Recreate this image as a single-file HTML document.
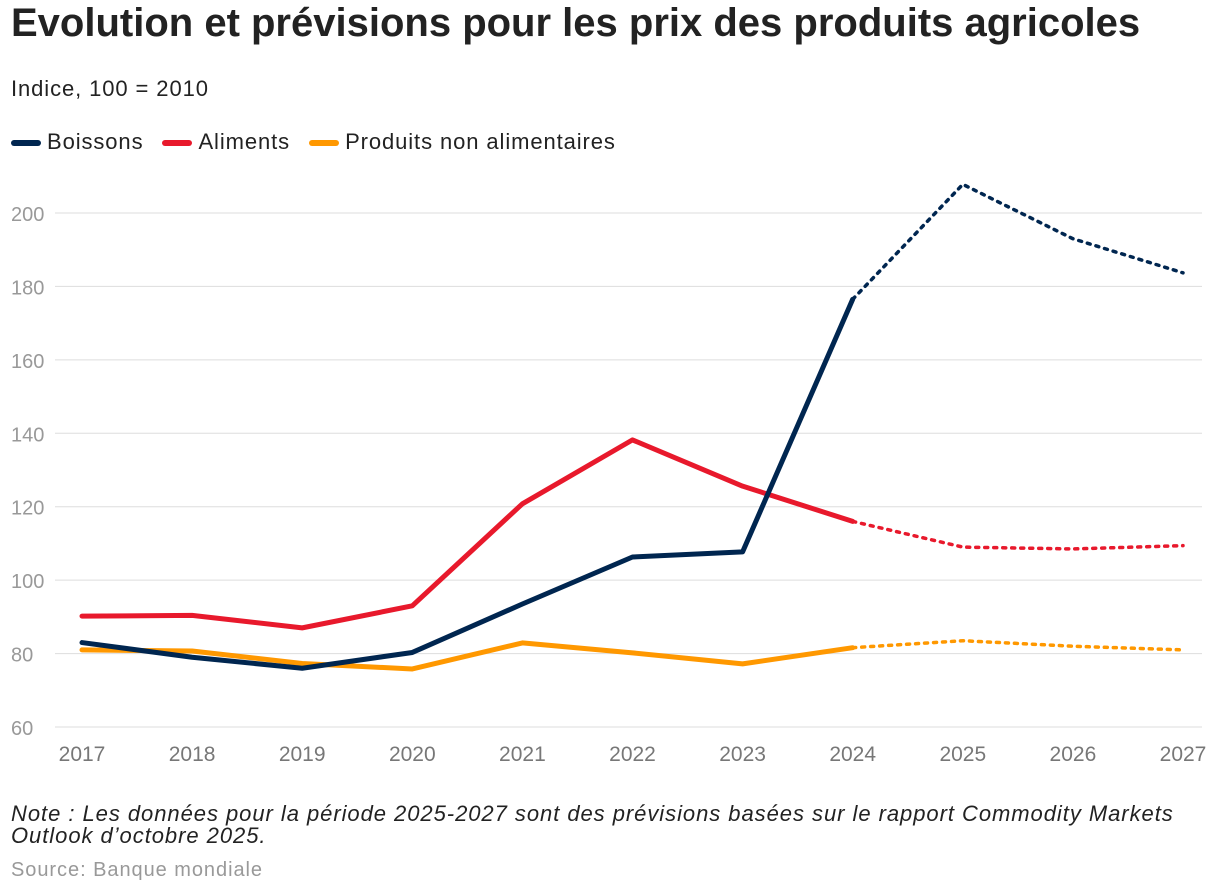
<!DOCTYPE html>
<html><head><meta charset="utf-8">
<style>
body{margin:0;background:#fff;font-family:"Liberation Sans",Arial,sans-serif;}
#wrap{position:relative;width:1220px;height:894px;overflow:hidden}
.t{position:absolute;white-space:nowrap}
</style></head><body>
<div id="wrap">
<div class="t" style="left:11px;top:1px;font-size:40px;font-weight:bold;color:#222;letter-spacing:0px">Evolution et prévisions pour les prix des produits agricoles</div>
<div class="t" style="left:11px;top:76px;font-size:22px;color:#222;letter-spacing:0.9px">Indice, 100 = 2010</div>
<div class="t" style="left:11px;top:129px;font-size:22px;color:#222;letter-spacing:0.9px">
<span><span style="display:inline-block;width:30px;height:6px;border-radius:3px;background:#002650;vertical-align:middle;margin-right:6px"></span>Boissons</span>
<span style="margin-left:12px"><span style="display:inline-block;width:30px;height:6px;border-radius:3px;background:#e8192c;vertical-align:middle;margin-right:6px"></span>Aliments</span>
<span style="margin-left:12px"><span style="display:inline-block;width:30px;height:6px;border-radius:3px;background:#ff9800;vertical-align:middle;margin-right:6px"></span>Produits non alimentaires</span>
</div>
<svg id="chart" width="1220" height="894" style="position:absolute;left:0;top:0"></svg>
<div class="t" style="left:11px;top:803px;font-size:22px;font-style:italic;color:#222;line-height:22px;letter-spacing:0.95px">Note : Les données pour la période 2025-2027 sont des prévisions basées sur le rapport Commodity Markets<br>Outlook d’octobre 2025.</div>
<div class="t" style="left:11px;top:859px;font-size:20px;color:#999;letter-spacing:0.95px">Source: Banque mondiale</div>
</div>
<script>
const years=[2017,2018,2019,2020,2021,2022,2023,2024,2025,2026,2027];
const yTicks=[60,80,100,120,140,160,180,200];
const boissons=[83,79,76,80.3,93.5,106.3,107.7,176.5,207.8,193,183.7];
const aliments=[90.2,90.4,87,93,120.8,138.2,125.6,116,109,108.5,109.4];
const nonAlim=[81,80.7,77.3,75.8,82.9,80.2,77.2,81.6,83.5,82,81];
const forecastStart=2024;
const NS="http://www.w3.org/2000/svg";
const svg=document.getElementById('chart');
const x=y=>82+(y-2017)*(1183-82)/10;
const yv=v=>727-(v-60)*(727-213)/140;
function mk(t,a){const e=document.createElementNS(NS,t);for(const k in a)e.setAttribute(k,a[k]);svg.appendChild(e);return e;}
yTicks.forEach(v=>{
 const l=mk('line',{x1:55,x2:1202,y1:yv(v),y2:yv(v),stroke:'#ddd','stroke-width':1});
 
 
 const t=mk('text',{x:11,y:yv(v)+8,'font-size':20,fill:'#999','font-family':'Liberation Sans, sans-serif'});
 t.textContent=v;
 
 
});
years.forEach(yr=>{
 const t=mk('text',{x:x(yr),y:761,'font-size':21,fill:'#777','text-anchor':'middle','font-family':'Liberation Sans, sans-serif'});
 t.textContent=yr;
 
 
});
function series(vals,color,name){
 const k=years.indexOf(forecastStart);
 const p1=years.slice(0,k+1).map((yr,i)=>x(yr)+','+yv(vals[i])).join(' ');
 const p2=years.slice(k).map((yr,i)=>x(yr)+','+yv(vals[i+k])).join(' ');
 const a=mk('polyline',{points:p1,fill:'none',stroke:color,'stroke-width':5,'stroke-linejoin':'round','stroke-linecap':'round'});
 
 
 const b=mk('polyline',{points:p2,fill:'none',stroke:color,'stroke-width':3.5,'stroke-dasharray':'3 6','stroke-linecap':'round'});
 
 
}
series(nonAlim,'#ff9800','non-alimentaires');
series(aliments,'#e8192c','aliments');
series(boissons,'#002650','boissons');
</script>
</body></html>
